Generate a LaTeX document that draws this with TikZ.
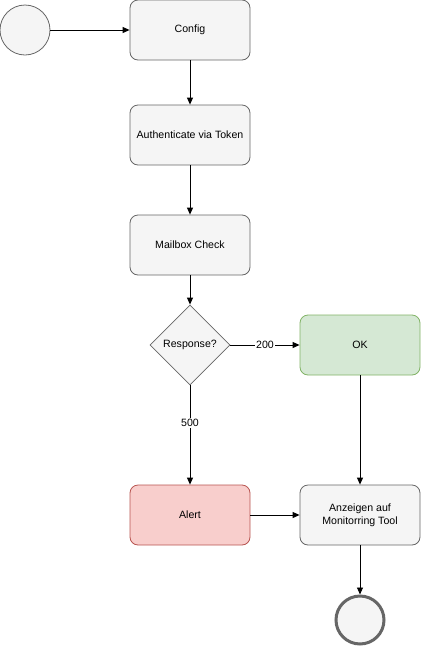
\documentclass[tikz,border=0pt]{standalone}
\usepackage{fontspec}
\setmainfont{Liberation Sans}
\usetikzlibrary{shapes.geometric,arrows.meta}
\definecolor{grayfill}{HTML}{F5F5F5}
\definecolor{graystroke}{HTML}{666666}
\definecolor{greenfill}{HTML}{D5E8D4}
\definecolor{greenstroke}{HTML}{82B366}
\definecolor{redfill}{HTML}{F8CECC}
\definecolor{redstroke}{HTML}{B85450}
\tikzset{
  box/.style={rectangle, rounded corners=8pt, draw=graystroke, fill=grayfill, minimum width=120pt, minimum height=60pt, align=center, font=\fontsize{10.6}{13}\selectfont, line width=0.8pt},
  okbox/.style={box, draw=greenstroke, fill=greenfill},
  alertbox/.style={box, draw=redstroke, fill=redfill},
  decision/.style={diamond, draw=graystroke, fill=grayfill, minimum width=80pt, minimum height=80pt, inner sep=0pt, aspect=1, font=\fontsize{10.6}{13}\selectfont, line width=0.8pt},
  startc/.style={circle, draw=graystroke, fill=grayfill, minimum size=50pt, inner sep=0pt, line width=0.8pt},
  endc/.style={circle, draw=graystroke, fill=grayfill, minimum size=48pt, inner sep=0pt, line width=3pt},
  conn/.style={-{Triangle[length=7pt,width=6pt]}, line width=0.9pt, black},
  lbl/.style={fill=white, inner sep=1pt, font=\fontsize{10.6}{13}\selectfont}
}
\begin{document}
\begin{tikzpicture}[x=1pt,y=-1pt]
\useasboundingbox (0,0) rectangle (421,646);
\node[startc] (start) at (25,30) {};
\node[box] (config) at (190,30) {Config};
\node[box] (auth) at (190,135) {Authenticate via Token};
\node[box] (mail) at (190,245) {Mailbox Check};
\node[decision] (resp) at (190,345) {Response?};
\node[okbox] (ok) at (360,345) {OK};
\node[alertbox] (alert) at (190,515) {Alert};
\node[box] (show) at (360,515) {Anzeigen auf\\Monitorring Tool};
\node[endc] (end) at (360,620) {};
\draw[conn] (start) -- (config);
\draw[conn] (config) -- (auth);
\draw[conn] (auth) -- (mail);
\draw[conn] (mail) -- (resp);
\draw[conn] (resp) -- node[lbl] {200} (ok);
\draw[conn] (resp) -- node[lbl, pos=0.38] {500} (alert);
\draw[conn] (ok) -- (show);
\draw[conn] (alert) -- (show);
\draw[conn] (show) -- (end);
\end{tikzpicture}
\end{document}
